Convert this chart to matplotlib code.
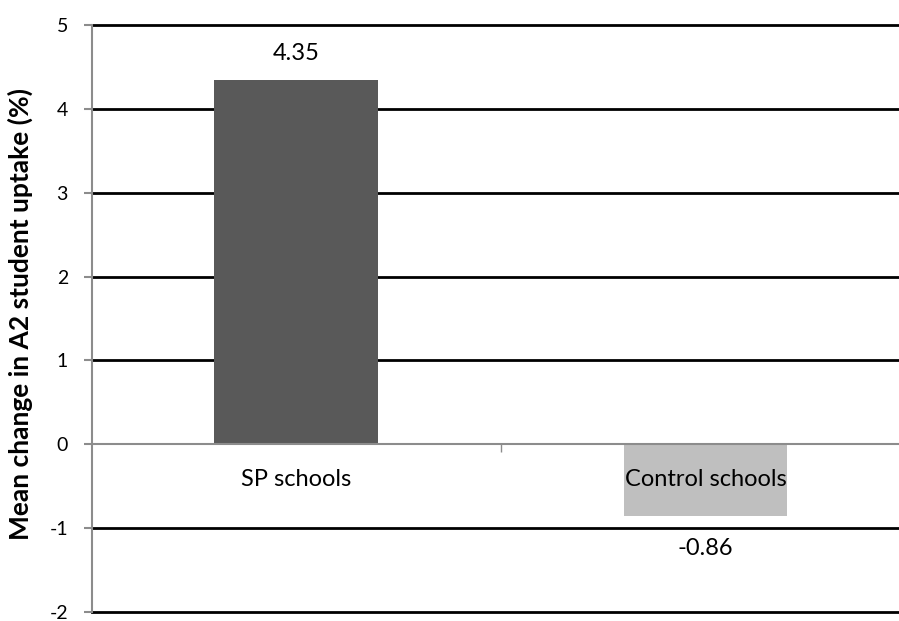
import matplotlib.pyplot as plt

groups = ['SP schools', 'Control schools']
mean_change = [4.35, -0.86]
bar_colors = ['#595959', '#bfbfbf']
y_ticks = [-2, -1, 0, 1, 2, 3, 4, 5]

plt.rcParams['font.family'] = ['Lato', 'DejaVu Sans']

fig = plt.figure(figsize=(8.99, 6.21), dpi=100)
# plot area runs a little past the right edge of the figure
ax = fig.add_axes([0.1018, 0.0145, 0.9105, 0.9452])

x = list(range(len(groups)))
ax.bar(x, mean_change, width=0.4, color=bar_colors, zorder=3)

ax.set_xlim(-0.5, len(groups) - 0.5)
ax.set_ylim(min(y_ticks), max(y_ticks))
ax.set_yticks(y_ticks)
ax.set_yticklabels([str(t) for t in y_ticks], fontsize=14)
for t in y_ticks:
    if t != 0:
        ax.axhline(t, color='black', lw=2, zorder=1, clip_on=False)

# category axis sits at zero, with a divider tick between groups
ax.spines['bottom'].set_position(('data', 0))
ax.spines['bottom'].set_color('#8c8c8c')
ax.spines['bottom'].set_linewidth(1.5)
ax.spines['bottom'].set_zorder(4)
ax.spines['left'].set_color('#8c8c8c')
ax.spines['left'].set_linewidth(1.5)
ax.spines['top'].set_visible(False)
ax.spines['right'].set_visible(False)
ax.set_xticks([0.5])
ax.set_xticklabels([''])
ax.tick_params(axis='x', direction='out', length=6, color='#8c8c8c', width=1)
ax.tick_params(axis='y', direction='out', length=6, color='#8c8c8c', width=1.5, pad=11)

for xi, g in zip(x, groups):
    ax.annotate(g, (xi, 0), xytext=(0, -25), textcoords='offset points',
                ha='center', va='center', fontsize=17, zorder=5)

for xi, v in zip(x, mean_change):
    off = 19 if v >= 0 else -23
    ax.annotate(f'{v:.2f}', (xi, v), xytext=(0, off), textcoords='offset points',
                ha='center', va='center', fontsize=17)

ax.set_ylabel('Mean change in A2 student uptake (%)', fontsize=19, fontweight='bold')
ax.yaxis.set_label_coords(-0.071, 0.508)

fig.savefig('out.png', dpi=100)
